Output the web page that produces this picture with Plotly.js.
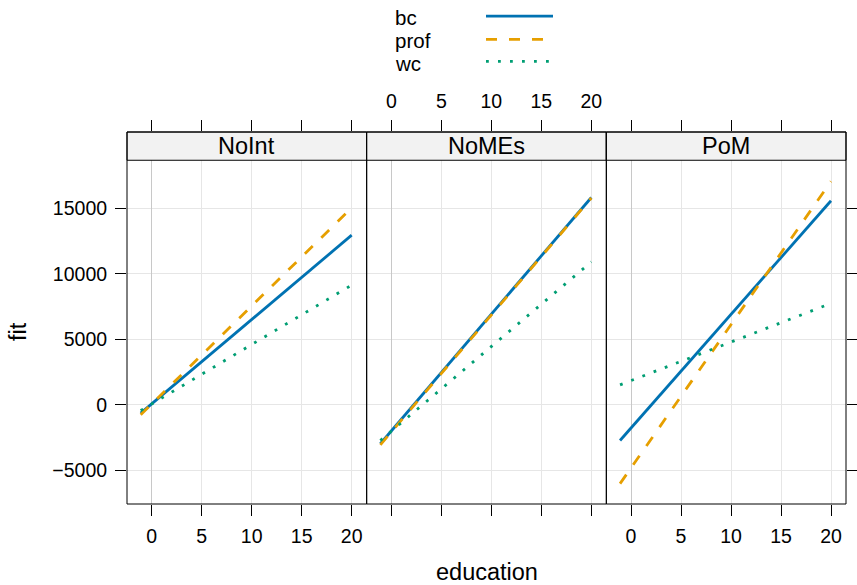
<!DOCTYPE html>
<html>
<head>
<meta charset="utf-8">
<script src="https://cdn.plot.ly/plotly-3.0.1.min.js"></script>
<style>html,body{margin:0;padding:0;background:#fff;}#chart{width:857px;height:585px;}</style>
</head>
<body>
<div id="chart"></div>
<script>
// ---- data ----
const panels = ["NoInt", "NoMEs", "PoM"];
const groups = ["bc", "prof", "wc"];
const education = [-1.1, 20];
// fitted values at education = -1.1 and 20, per panel
const bcFit   = { NoInt: [-630, 12960], NoMEs: [-2970, 15840], PoM: [-2720, 15590] };
const profFit = { NoInt: [-760, 15050], NoMEs: [-3050, 15800], PoM: [-6020, 17070] };
const wcFit   = { NoInt: [-435, 9150],  NoMEs: [-2720, 10920], PoM: [1525, 7750] };
const xTicks = [0, 5, 10, 15, 20];
const yTicks = [-5000, 0, 5000, 10000, 15000];

// ---- geometry (pixels) ----
const W = 857, H = 585;
const L = 127, R = 846, T = 131.7, B = 504.3;
const pw = R - L, ph = B - T;
const px = v => (v - L) / pw;
const py = v => (B - v) / ph;

const FONT = "Liberation Sans, Arial, Helvetica, sans-serif";
const colors = { bc: "#0072B2", prof: "#E69F00", wc: "#009E73" };
const dashes = { bc: "solid", prof: "11px,12px", wc: "2.8px,9.2px" };
const widths = { bc: 2.8, prof: 2.8, wc: 2.8 };
const fits = { bc: bcFit, prof: profFit, wc: wcFit };

const xRange = [-2.47, 21.5];
const yRange = [-7573, 20842];

const traces = [];
panels.forEach((p, i) => {
  const xa = i === 0 ? "x" : "x" + (i + 1);
  groups.forEach(g => {
    traces.push({
      type: "scatter", mode: "lines",
      x: education, y: fits[g][p],
      xaxis: xa, yaxis: "y",
      line: { color: colors[g], width: widths[g], dash: dashes[g] },
      showlegend: false, hoverinfo: "skip"
    });
  });
  // carrier (draws nothing) so the top axis of this panel is rendered
  traces.push({ type: "scatter", mode: "none", x: education, y: bcFit[p],
    xaxis: "x" + (i + 4), yaxis: "y", showlegend: false, hoverinfo: "skip" });
});
// carrier for right-hand y ticks on the last panel
traces.push({ type: "scatter", mode: "none", x: education, y: bcFit.PoM,
  xaxis: "x3", yaxis: "y2", showlegend: false, hoverinfo: "skip" });

const tickFont = { family: FONT, size: 19.5, color: "#000" };
const baseX = (dom, showLabels) => ({
  domain: dom, range: xRange, anchor: "y",
  tickmode: "array", tickvals: xTicks, ticktext: xTicks.map(String),
  ticks: "outside", ticklen: 11, tickwidth: 1, tickcolor: "#000",
  showticklabels: showLabels, tickfont: tickFont, ticklabelstandoff: 4,
  showgrid: true, gridcolor: "#e6e6e6", gridwidth: 1,
  zeroline: true, zerolinecolor: "#c8c8c8", zerolinewidth: 1,
  showline: false, fixedrange: true
});
const topX = (over, showLabels) => ({
  overlaying: over, side: "top", anchor: "y", range: xRange,
  tickmode: "array", tickvals: xTicks, ticktext: xTicks.map(String),
  ticks: "outside", ticklen: 11, tickwidth: 1, tickcolor: "#000",
  showticklabels: showLabels, tickfont: tickFont, ticklabelstandoff: 4,
  showgrid: false, zeroline: false, showline: false, fixedrange: true
});

const doms = [[0, 1/3], [1/3, 2/3], [2/3, 1]];
const stripBottom = py(160);

const shapes = [];
const annotations = [];
panels.forEach((p, i) => {
  const xd = (i === 0 ? "x" : "x" + (i + 1)) + " domain";
  shapes.push({ type: "rect", xref: xd, yref: "paper", x0: 0, x1: 1, y0: stripBottom, y1: 1,
    fillcolor: "#f2f2f2", line: { color: "#000", width: 1 }, layer: "above" });
  shapes.push({ type: "rect", xref: xd, yref: "paper", x0: 0, x1: 1, y0: 0, y1: 1,
    fillcolor: "rgba(0,0,0,0)", line: { color: "#000", width: 1 }, layer: "above" });
  annotations.push({ xref: xd, yref: "paper", x: 0.5, y: (stripBottom + 1) / 2,
    text: p, showarrow: false, xanchor: "center", yanchor: "middle",
    font: { family: FONT, size: 23.5, color: "#000" } });
});

// legend (key drawn manually: text then line sample)
const legRows = [ { g: "bc", ty: 17, ly: 15.7 }, { g: "prof", ty: 40, ly: 39 }, { g: "wc", ty: 63, ly: 61 } ];
legRows.forEach(r => {
  annotations.push({ xref: "paper", yref: "paper", x: px(393), y: py(r.ty), text: r.g,
    showarrow: false, xanchor: "left", yanchor: "middle",
    font: { family: FONT, size: 20.5, color: "#000" } });
  shapes.push({ type: "line", xref: "paper", yref: "paper", x0: px(486), x1: px(553), y0: py(r.ly), y1: py(r.ly),
    line: { color: colors[r.g], width: widths[r.g], dash: dashes[r.g] }, layer: "above" });
});

// axis titles
annotations.push({ xref: "paper", yref: "paper", x: 0.5, y: py(572), text: "education",
  showarrow: false, xanchor: "center", yanchor: "middle", font: { family: FONT, size: 23.5, color: "#000" } });
annotations.push({ xref: "paper", yref: "paper", x: px(18), y: py(332), text: "fit", textangle: -90,
  showarrow: false, xanchor: "center", yanchor: "middle", font: { family: FONT, size: 23.5, color: "#000" } });

const layout = {
  width: W, height: H,
  margin: { l: L, r: W - R, t: T, b: H - B, pad: 0 },
  paper_bgcolor: "#fff", plot_bgcolor: "#fff",
  font: { family: FONT, color: "#000" },
  showlegend: false,
  xaxis: baseX(doms[0], true),
  xaxis2: baseX(doms[1], false),
  xaxis3: baseX(doms[2], true),
  xaxis4: topX("x", false),
  xaxis5: topX("x2", true),
  xaxis6: topX("x3", false),
  yaxis: {
    domain: [0, 1], range: yRange, anchor: "x",
    tickmode: "array", tickvals: yTicks, ticktext: yTicks.map(v => v < 0 ? "\u2212" + Math.abs(v) : String(v)),
    ticks: "outside", ticklen: 11, tickwidth: 1, tickcolor: "#000",
    tickfont: tickFont, ticklabelstandoff: 4,
    showgrid: true, gridcolor: "#e6e6e6", gridwidth: 1,
    zeroline: false, showline: false, fixedrange: true
  },
  yaxis2: {
    overlaying: "y", side: "right", anchor: "x3", range: yRange,
    tickmode: "array", tickvals: yTicks,
    ticks: "outside", ticklen: 11, tickwidth: 1, tickcolor: "#000",
    showticklabels: false, showgrid: false, zeroline: false, showline: false, fixedrange: true
  },
  shapes: shapes,
  annotations: annotations
};

Plotly.newPlot("chart", traces, layout, { staticPlot: true, displayModeBar: false });
</script>
</body>
</html>
